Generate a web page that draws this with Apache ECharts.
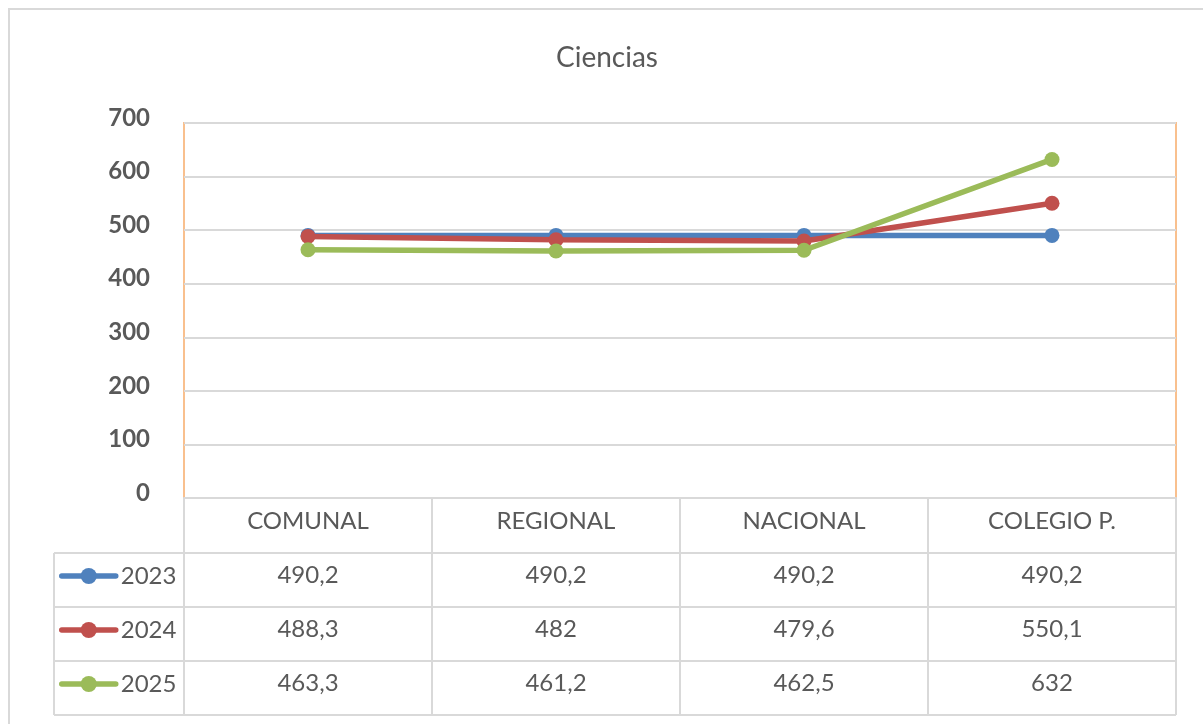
<!DOCTYPE html>
<html>
<head>
<meta charset="utf-8">
<script src="https://cdn.jsdelivr.net/npm/echarts@6/dist/echarts.min.js"></script>
<style>
html,body{margin:0;padding:0;background:#fff;}
#main{width:1203px;height:724px;}
</style>
</head>
<body>
<div id="main"></div>
<script>
// ---- data ----
const title = 'Ciencias';
const categories = ['COMUNAL', 'REGIONAL', 'NACIONAL', 'COLEGIO P.'];
const seriesNames = ['2023', '2024', '2025'];
const values2023 = [490.2, 490.2, 490.2, 490.2];
const values2024 = [488.3, 482, 479.6, 550.1];
const values2025 = [463.3, 461.2, 462.5, 632];
const yMin = 0, yMax = 700, yInterval = 100;

const seriesValues = [values2023, values2024, values2025];
const colors = ['#4F81BD', '#C0504D', '#9BBB59'];
const fmt = v => String(v).replace('.', ',');

// ---- layout ----
const FONT = 'Lato, "Open Sans", sans-serif';
const TEXT = '#595959';
const LINE = '#D9D9D9';
const gridLeft = 184, gridTop = 123, gridWidth = 992, gridHeight = 375;
const headerH = 55, rowH = 54;
const tableLeft = 54;
const gridBottomY = gridTop + gridHeight;
const tableRight = gridLeft + gridWidth;

const chart = echarts.init(document.getElementById('main'), null, {renderer: 'canvas'});

const xAxes = [{
  type: 'category',
  gridIndex: 0,
  data: categories,
  boundaryGap: true,
  position: 'bottom',
  axisLine: {show: true, lineStyle: {color: LINE, width: 2}},
  axisTick: {show: true, interval: 0, length: headerH + rowH * seriesNames.length, lineStyle: {color: LINE, width: 2}},
  axisLabel: {show: true, interval: 0, margin: 11, fontSize: 24, lineHeight: 24, color: TEXT, fontFamily: FONT},
  splitLine: {show: false}
}];
seriesNames.forEach((name, i) => {
  xAxes.push({
    type: 'category',
    gridIndex: 0,
    data: seriesValues[i].map(fmt),
    boundaryGap: true,
    position: 'bottom',
    offset: headerH + rowH * i,
    axisLine: {show: false},
    axisTick: {show: false},
    axisLabel: {show: true, interval: 0, margin: 10, fontSize: 24, lineHeight: 24, color: TEXT, fontFamily: FONT},
    splitLine: {show: false}
  });
});

const graphics = [
  {type: 'rect', shape: {x: 9, y: 9, width: 1400, height: 900}, style: {fill: null, stroke: LINE, lineWidth: 2}, z: 0, silent: true}
];
for (let i = 1; i <= seriesNames.length; i++) {
  const y = gridBottomY + headerH + rowH * (i - 1);
  graphics.push({type: 'line', shape: {x1: tableLeft, y1: y, x2: tableRight, y2: y}, style: {stroke: LINE, lineWidth: 2}, silent: true});
}
const lastY = gridBottomY + headerH + rowH * seriesNames.length;
graphics.push({type: 'line', shape: {x1: tableLeft, y1: lastY, x2: tableRight, y2: lastY}, style: {stroke: LINE, lineWidth: 2}, silent: true});
graphics.push({type: 'line', shape: {x1: tableLeft, y1: gridBottomY + headerH, x2: tableLeft, y2: lastY}, style: {stroke: LINE, lineWidth: 2}, silent: true});

const option = {
  animation: false,
  backgroundColor: '#fff',
  title: {
    text: title,
    left: 607,
    textAlign: 'center',
    top: 44,
    padding: 0,
    textStyle: {fontSize: 28, fontWeight: 'normal', color: TEXT, fontFamily: FONT}
  },
  legend: {
    show: true,
    orient: 'vertical',
    left: 59,
    top: gridBottomY + headerH + 11,
    padding: 0,
    itemWidth: 54,
    itemHeight: 20,
    itemGap: 30,
    data: seriesNames,
    lineStyle: {width: 5.5, cap: 'round'},
    textStyle: {fontSize: 24, lineHeight: 24, color: TEXT, fontFamily: FONT}
  },
  grid: {
    left: gridLeft, top: gridTop, width: gridWidth, height: gridHeight,
    show: true, borderColor: '#F9C08E', borderWidth: 2, backgroundColor: 'transparent',
    containLabel: false
  },
  xAxis: xAxes,
  yAxis: {
    type: 'value',
    min: yMin, max: yMax, interval: yInterval,
    axisLine: {show: false},
    axisTick: {show: false},
    axisLabel: {margin: 34, fontSize: 24, fontWeight: 'bold', color: TEXT, fontFamily: FONT, lineHeight: 10, verticalAlign: 'bottom'},
    splitLine: {show: true, lineStyle: {color: LINE, width: 2}}
  },
  series: seriesNames.map((name, i) => ({
    name: name,
    type: 'line',
    xAxisIndex: 0,
    data: seriesValues[i],
    symbol: 'circle',
    symbolSize: 15,
    color: colors[i],
    lineStyle: {width: 5.5, color: colors[i]},
    itemStyle: {color: colors[i]},
    z: 3 + i
  })),
  graphic: graphics
};
chart.setOption(option);
</script>
</body>
</html>
